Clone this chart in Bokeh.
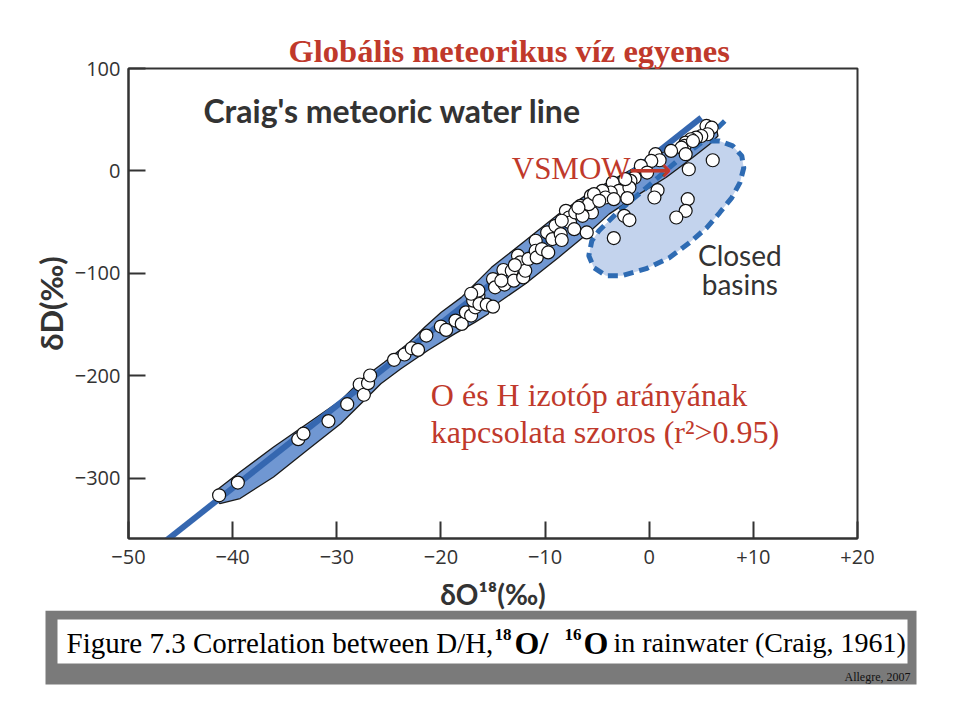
from bokeh.plotting import figure
from bokeh.models import Range1d, FixedTicker, Label
from bokeh.layouts import column
from bokeh.embed import file_html
from bokeh.resources import INLINE

# ---------------- data ----------------
d18o = [-41.3, -39.5, -33.7, -33.2, -30.8, -29.0, -27.8, -27.4, -27.0, -26.8,
        -24.5, -23.5, -22.8, -22.2, -21.4, -20.0, -19.5, -18.6, -18.0, -17.6,
        -17.1, -16.7, -16.9, -16.4, -16.3, -15.6, -15.0, -15.0, -14.8, -14.0,
        -13.9, -13.2, -13.0, -12.6, -12.4, -12.1, -11.9, -11.6, -10.9, -10.9,
        -10.8, -10.3, -9.7, -9.8, -9.3, -9.0, -8.5, -8.4, -8.0, -7.7,
        -7.6, -7.2, -7.1, -6.6, -6.4, -6.0, -5.6, -5.5, -5.8, 5.5,
        6.0, 5.6, 5.0, 4.5, 4.0, 3.5, 3.4, 3.1, 3.5, 2.1,
        0.6, 1.0, 0.2, -0.8, -0.2, -1.4, -1.8, -2.3, -2.6, -3.5,
        -2.9, -1.9, -3.7, -4.5, -4.2, -3.4, -5.3, -4.8, -6.4, -2.1,
        0.8, 0.5, 6.1, 3.8, 3.7, 3.5, 2.6, -2.4, -1.9, -3.4,
        -16.4, -14.2, -8.4, -6.8, -2.3, 4.2, -17.1, -12.9]
dD = [-316.8, -304.4, -262.0, -256.6, -244.3, -227.8, -208.6, -218.6, -207.3, -199.8,
      -184.5, -179.3, -173.2, -174.8, -160.8, -152.0, -155.3, -146.2, -149.4, -138.1,
      -141.3, -133.2, -126.7, -121.8, -130.0, -130.6, -132.6, -105.6, -113.7, -96.8,
      -111.0, -97.5, -107.2, -82.8, -89.4, -104.0, -97.5, -86.0, -68.2, -78.0,
      -84.5, -76.3, -79.6, -60.1, -66.6, -53.6, -61.7, -67.5, -39.0, -45.5,
      -50.4, -56.9, -40.6, -34.1, -42.2, -60.1, -24.4, -40.6, -32.5, 43.9,
      42.2, 35.8, 34.1, 32.5, 30.9, 27.6, 24.4, 22.7, 16.3, 19.5,
      16.3, 10.4, 9.7, 4.9, -1.6, -6.5, -9.7, -11.4, -14.6, -11.4,
      -19.5, -16.3, -21.1, -19.5, -26.0, -27.6, -22.7, -29.2, -43.9, -26.6,
      -18.8, -26.0, 10.4, 1.6, -27.6, -39.0, -45.5, -43.9, -48.0, -65.6,
      -117.0, -107.2, -48.7, -35.8, -8.1, 29.2, -120.0, -92.0]

band_x = [-41.86, -41.55, -39.29, -36.07, -32.85, -29.63, -27.37, -25.44, -23.19, -21.57,
          -19.97, -18.04, -15.14, -11.91, -8.70, -5.48, -2.25, 0.97, 3.55, 5.48,
          6.44, 6.60,
          5.80, 4.18, 1.61, -0.97, -3.86, -5.80, -8.70, -11.91, -15.14, -15.46,
          -16.74, -18.68, -21.26, -23.84, -25.77, -27.37, -29.63, -32.85, -36.07, -39.29,
          -41.23]
band_y = [-318.4, -311.9, -294.1, -269.7, -246.9, -224.2, -201.5, -186.8, -168.9, -152.7,
          -138.1, -123.5, -94.2, -68.2, -42.2, -19.5, -1.7, 16.3, 29.2, 43.9,
          42.2, 34.1,
          26.0, 13.0, -6.5, -22.7, -42.2, -60.1, -84.5, -110.4, -133.2, -139.7,
          -147.9, -159.2, -175.4, -193.3, -207.9, -224.2, -246.9, -272.9, -298.9, -320.0,
          -324.9]

basin_x = [7.25, 5.51, 2.90, -0.29, -2.90, -4.83, -5.51, -5.80, -5.31, -4.15, -2.61, -0.29,
           1.93, 3.86, 5.51, 6.76, 7.92, 8.70, 9.08, 8.89, 8.02, 6.76, 5.51]
basin_y = [48.7, 31.2, 11.7, -16.6, -39.0, -58.5, -68.2, -82.8, -94.5, -102.3, -102.3, -95.5,
           -84.8, -70.2, -55.6, -40.9, -26.3, -11.7, 2.9, 14.6, 24.4, 29.2, 29.2]

mwl_x = [-46.5, 5.0]
mwl_y = [-362.0, 52.0]

x_ticks = [-50, -40, -30, -20, -10, 0, 10, 20]
x_tick_labels = ["\u221250", "\u221240", "\u221230", "\u221220", "\u221210", "0", "+10", "+20"]
y_ticks = [-300, -200, -100, 0, 100]
y_tick_labels = ["\u2212300", "\u2212200", "\u2212100", "0", "100"]

RED = "#c0392b"
DARK = "#333333"
SERIF = "Liberation Serif"
SANS = "Lato"

# ---------------- main chart ----------------
p = figure(width=943, height=622, x_range=Range1d(-50, 20), y_range=Range1d(-359, 100),
           output_backend="svg", toolbar_location=None,
           min_border_left=128, min_border_right=86, min_border_top=68, min_border_bottom=84)
p.frame_align = False
p.xgrid.visible = False
p.ygrid.visible = False
p.outline_line_color = DARK
p.outline_line_width = 2
p.background_fill_color = "white"
p.border_fill_color = "white"

p.title.text = "Glob\u00e1lis meteorikus v\u00edz egyenes"
p.title.text_font = SERIF
p.title.text_font_style = "bold"
p.title.text_font_size = "32.5px"
p.title.text_color = RED
p.title.align = "left"
p.title.offset = 160
p.title.standoff = 0

for ax, ticks, labels in ((p.xaxis[0], x_ticks, x_tick_labels), (p.yaxis[0], y_ticks, y_tick_labels)):
    ax.ticker = FixedTicker(ticks=ticks)
    ax.major_label_overrides = {t: l for t, l in zip(ticks, labels)}
    ax.major_tick_in = 17
    ax.major_tick_out = 0
    ax.minor_tick_line_color = None
    ax.major_tick_line_width = 2
    ax.major_tick_line_color = DARK
    ax.axis_line_color = DARK
    ax.axis_line_width = 2
    ax.major_label_text_font = "Open Sans"
    ax.major_label_text_font_size = "20px"
    ax.major_label_text_color = DARK
    ax.major_label_standoff = 8
    ax.axis_label_text_font = SANS
    ax.axis_label_text_font_style = "bold"
    ax.axis_label_text_color = DARK

p.xaxis.major_label_standoff = 11
p.xaxis.axis_label = "\u03b4O\u00b9\u2078(\u2030)"
p.xaxis.axis_label_text_font_size = "28px"
p.xaxis.axis_label_standoff = 10
p.yaxis.axis_label = "\u03b4D(\u2030)"
p.yaxis.axis_label_text_font_size = "31px"
p.yaxis.axis_label_standoff = 2

# closed basins fill
p.patch(basin_x, basin_y, fill_color="#c3d3ed", line_color=None)
# main envelope band
p.patch(band_x, band_y, fill_color="#7097d2", line_color="#1a1a1a", line_width=1.3)
# closed basins dashed outline
p.line(basin_x, basin_y, line_color="#2e6bb3", line_width=5, line_dash="10 6")
# Craig's meteoric water line
p.line(mwl_x, mwl_y, line_color="#3567b0", line_width=6)
# samples
p.scatter(d18o, dD, size=13, fill_color="white", line_color="#111111", line_width=1.2)

# texts
p.add_layout(Label(x=-42.8, y=58.5, text="Craig's meteoric water line",
                   text_font=SANS, text_font_style="bold", text_font_size="32px",
                   text_color=DARK, text_align="left", text_baseline="middle"))
p.add_layout(Label(x=-13.2, y=1.9, text="VSMOW",
                   text_font=SERIF, text_font_size="31px",
                   text_color=RED, text_align="left", text_baseline="middle"))
p.add_layout(Label(x=-2.0, y=1.0, text="\u27f6",
                   text_font="DejaVu Sans", text_font_size="30px", text_font_style="bold",
                   text_color=RED, text_align="left", text_baseline="middle"))
p.add_layout(Label(x=8.7, y=-81.9, text="Closed",
                   text_font=SANS, text_font_size="28px",
                   text_color=DARK, text_align="center", text_baseline="middle"))
p.add_layout(Label(x=8.7, y=-110.1, text="basins",
                   text_font=SANS, text_font_size="28px",
                   text_color=DARK, text_align="center", text_baseline="middle"))
p.add_layout(Label(x=-20.97, y=-219.3, text="O \u00e9s H izot\u00f3p ar\u00e1ny\u00e1nak",
                   text_font=SERIF, text_font_size="32px",
                   text_color=RED, text_align="left", text_baseline="middle"))
p.add_layout(Label(x=-20.97, y=-255.4, text="kapcsolata szoros (r\u00b2>0.95)",
                   text_font=SERIF, text_font_size="32px",
                   text_color=RED, text_align="left", text_baseline="middle"))

# ---------------- caption strip ----------------
c = figure(width=943, height=94, x_range=Range1d(0, 943), y_range=Range1d(0, 94),
           output_backend="svg", toolbar_location=None,
           x_axis_type=None, y_axis_type=None, min_border=0)
c.frame_align = False
c.margin = (-12, 0, 0, 0)
c.xgrid.visible = False
c.ygrid.visible = False
c.outline_line_color = None
c.background_fill_color = "white"
c.border_fill_color = "white"

# page y = 610 + (94 - y)
c.quad(left=[45], right=[916], bottom=[20], top=[94], fill_color="#7a7a7a", line_color=None)
c.quad(left=[57], right=[907], bottom=[41], top=[85], fill_color="white", line_color=None)

cap = dict(text_font=SERIF, text_color="black", text_baseline="middle", text_align="left")
c.add_layout(Label(x=66, y=62, text="Figure 7.3 Correlation between D/H,", text_font_size="29px", **cap))
c.add_layout(Label(x=494, y=70, text="18", text_font_size="17px", text_font_style="bold", **cap))
c.add_layout(Label(x=514, y=62, text="O/", text_font_size="32px", text_font_style="bold", **cap))
c.add_layout(Label(x=564, y=70, text="16", text_font_size="17px", text_font_style="bold", **cap))
c.add_layout(Label(x=583, y=62, text="O", text_font_size="32px", text_font_style="bold", **cap))
c.add_layout(Label(x=613, y=62, text="in rainwater (Craig, 1961)", text_font_size="28px", **cap))
c.add_layout(Label(x=910, y=28, text="Allegre, 2007", text_font=SERIF, text_font_size="12px",
                   text_color="#111111", text_align="right", text_baseline="middle"))

layout = column(p, c, spacing=0)
open("out.html", "w").write(file_html(layout, INLINE))
